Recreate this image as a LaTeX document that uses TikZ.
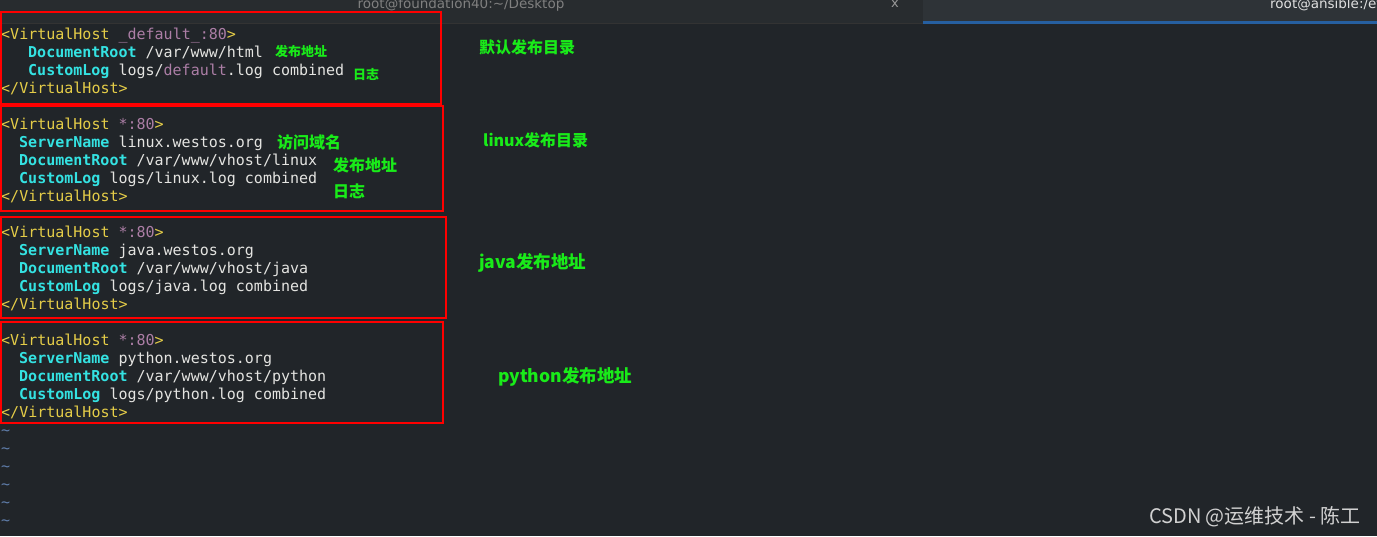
\documentclass[tikz,border=0pt]{standalone}
\usepackage{fontspec}
\setmainfont{DejaVu Sans}
\setmonofont{DejaVu Sans Mono}
\newfontfamily\cjk{Noto Sans CJK SC}
\usepackage{tikz}

\definecolor{termbg}{RGB}{33,37,41}
\definecolor{tabdark}{RGB}{40,44,47}
\definecolor{tablight}{RGB}{46,51,55}
\definecolor{tabblue}{RGB}{38,95,160}
\definecolor{tagyel}{RGB}{229,205,72}
\definecolor{argpur}{RGB}{172,126,166}
\definecolor{keycyan}{RGB}{52,226,226}
\definecolor{valwht}{RGB}{228,228,225}
\definecolor{notegreen}{RGB}{25,235,25}
\definecolor{tildeblue}{RGB}{95,125,170}

\newcommand{\tagtxt}[1]{\textcolor{tagyel}{#1}}
\newcommand{\argtxt}[1]{\textcolor{argpur}{#1}}
\newcommand{\keytxt}[1]{\textcolor{keycyan}{\bfseries #1}}

\begin{document}
\begin{tikzpicture}[x=1pt, y=-1pt,
  code/.style={anchor=base west, inner sep=0pt, text=valwht,
               font=\ttfamily\fontsize{15}{18}\selectfont},
  note/.style={anchor=west, inner sep=0pt, text=notegreen,
               font=\cjk\bfseries\fontsize{#1}{#1}\selectfont},
  redbox/.style={draw=red, line width=2pt}]
\clip (0,0) rectangle (1377,536);
\fill[termbg] (0,0) rectangle (1377,536);

% title bar
\fill[tabdark] (0,0) rectangle (923,23);
\fill[tablight] (923,0) rectangle (1377,21);
\fill[tabblue] (923,21) rectangle (1377,24);
\draw[black!80, line width=1pt] (0,23) -- (923,23);
\node[anchor=base, inner sep=0pt, text=gray, font=\fontsize{13.5}{16}\selectfont]
  (title1) at (461,8) {root@foundation40:\textasciitilde/Desktop};
\node[anchor=base, inner sep=0pt, text=gray!80, font=\fontsize{13}{16}\selectfont]
  (close1) at (895,7) {x};
\node[anchor=base west, inner sep=0pt, text=white!88!black, font=\fontsize{13.5}{16}\selectfont]
  (title2) at (1270,8) {root@ansible:/etc};

% default host
\node[code] (vh1) at (1,39)  {\tagtxt{<VirtualHost} \argtxt{\_default\_:80}\tagtxt{>}};
\node[code] (dr1) at (28,57) {\keytxt{DocumentRoot} /var/www/html};
\node[code] (cl1) at (28,75) {\keytxt{CustomLog} logs/\argtxt{default}.log combined};
\node[code] (ev1) at (1,93)  {\tagtxt{</VirtualHost>}};

% linux
\node[code] (vh2) at (1,129)  {\tagtxt{<VirtualHost} \argtxt{*:80}\tagtxt{>}};
\node[code] (sn2) at (19,147) {\keytxt{ServerName} linux.westos.org};
\node[code] (dr2) at (19,165) {\keytxt{DocumentRoot} /var/www/vhost/linux};
\node[code] (cl2) at (19,183) {\keytxt{CustomLog} logs/linux.log combined};
\node[code] (ev2) at (1,201)  {\tagtxt{</VirtualHost>}};

% java
\node[code] (vh3) at (1,237)  {\tagtxt{<VirtualHost} \argtxt{*:80}\tagtxt{>}};
\node[code] (sn3) at (19,255) {\keytxt{ServerName} java.westos.org};
\node[code] (dr3) at (19,273) {\keytxt{DocumentRoot} /var/www/vhost/java};
\node[code] (cl3) at (19,291) {\keytxt{CustomLog} logs/java.log combined};
\node[code] (ev3) at (1,309)  {\tagtxt{</VirtualHost>}};

% python
\node[code] (vh4) at (1,345)  {\tagtxt{<VirtualHost} \argtxt{*:80}\tagtxt{>}};
\node[code] (sn4) at (19,363) {\keytxt{ServerName} python.westos.org};
\node[code] (dr4) at (19,381) {\keytxt{DocumentRoot} /var/www/vhost/python};
\node[code] (cl4) at (19,399) {\keytxt{CustomLog} logs/python.log combined};
\node[code] (ev4) at (1,417)  {\tagtxt{</VirtualHost>}};

\foreach \k in {0,...,5}
  \node[code, text=tildeblue] (tl\k) at (1,435+18*\k) {\textasciitilde};

% red frames
\draw[redbox] (1,12) rectangle (441,104);
\draw[redbox] (1,106) rectangle (443,211);
\draw[redbox] (1,217) rectangle (446,318);
\draw[redbox] (1,322) rectangle (443,423);

% green notes
\node[note=13] (n1) at (275,52) {发布地址};
\node[note=13] (n2) at (353,74) {日志};
\node[note=16] (n3) at (479,47) {默认发布目录};
\node[note=16] (n4) at (277,142) {访问域名};
\node[note=16] (n5) at (333,165) {发布地址};
\node[note=16] (n6) at (333,191) {日志};
\node[note=16] (n7) at (483,140) {linux发布目录};
\node[note=17.5] (n8) at (479,263) {java发布地址};
\node[note=17.5] (n9) at (498,377) {python发布地址};

\node[anchor=east, inner sep=0pt, text=white!82!black, font=\cjk\fontsize{20}{22}\selectfont]
  (mark) at (1361,517) {CSDN @运维技术 - 陈工};
\end{tikzpicture}
\end{document}
